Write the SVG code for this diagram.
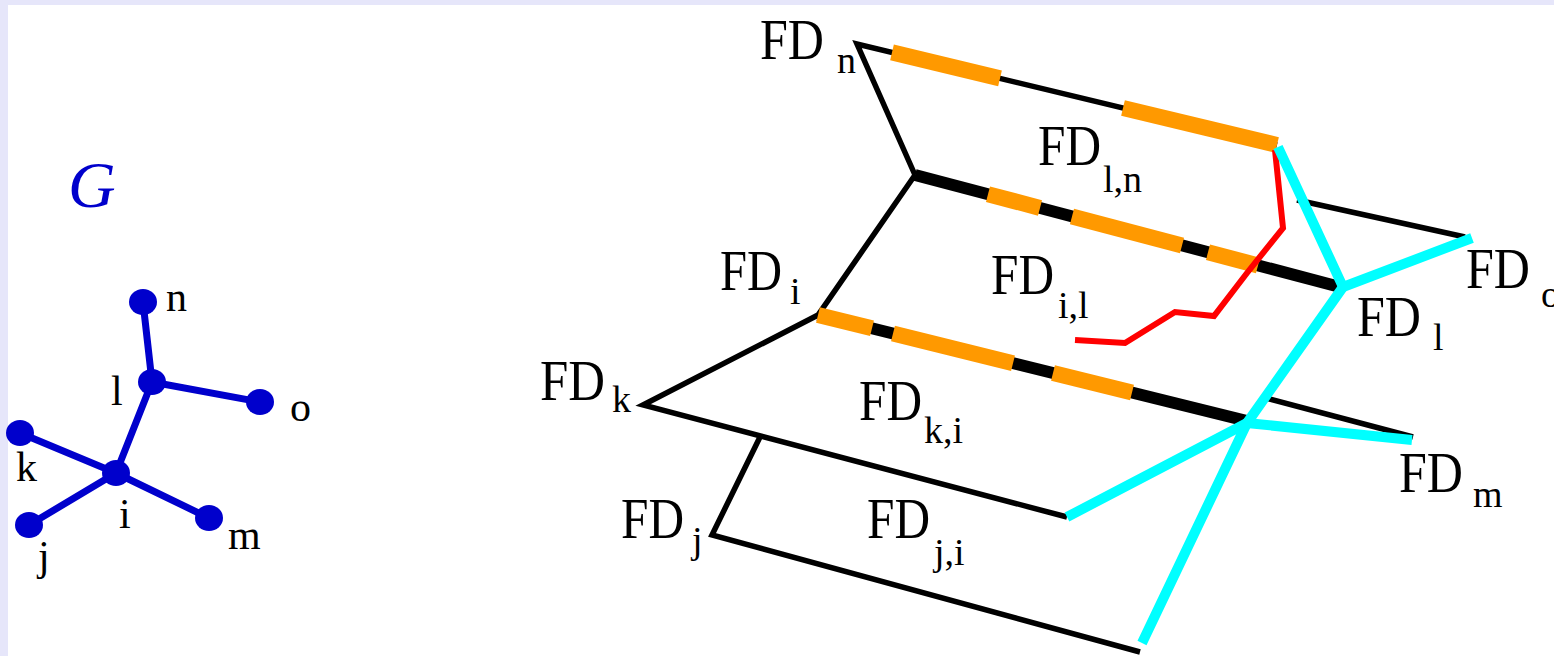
<svg xmlns="http://www.w3.org/2000/svg" width="1554" height="656" viewBox="0 0 1554 656">
<style>
.bg{fill:#e6e6fa}
.g-edge{stroke:#0000cc;stroke-width:7;stroke-linecap:round;fill:none}
.g-node{fill:#0000cc}
.g-lbl{font-family:"Liberation Serif",serif;font-size:42px;fill:#000}
.thin{stroke:#000;stroke-width:5.5;fill:none;stroke-linejoin:miter;stroke-miterlimit:10}
.thick{stroke:#000;stroke-width:12;fill:none}
.orange{stroke:#ff9900;stroke-width:16;fill:none}
.red{stroke:#ff0000;stroke-width:6;fill:none;stroke-linejoin:miter}
.cyan{stroke:#00ffff;stroke-width:10;fill:none;stroke-linejoin:round}
.fd{font-family:"Liberation Serif",serif;font-size:56px;fill:#000}
.sub{font-family:"Liberation Serif",serif;font-size:38px;fill:#000}
</style>
<rect width="1554" height="656" fill="#ffffff"/>
<rect class="bg" x="0" y="0" width="1554" height="5"/>
<rect class="bg" x="0" y="0" width="8" height="656"/>

<text x="68" y="207" font-family="Liberation Serif,serif" font-style="italic" font-size="66" fill="#0000cc">G</text>

<g id="graph-edges">
<line class="g-edge" x1="143" y1="302" x2="152" y2="382"/>
<line class="g-edge" x1="152" y1="382" x2="260" y2="402"/>
<line class="g-edge" x1="152" y1="382" x2="116" y2="473"/>
<line class="g-edge" x1="20" y1="433" x2="116" y2="473"/>
<line class="g-edge" x1="116" y1="473" x2="29" y2="525"/>
<line class="g-edge" x1="116" y1="473" x2="209" y2="518"/>
</g>
<g id="node-n"><ellipse class="g-node" cx="143" cy="302" rx="14" ry="13"/><text class="g-lbl" x="166" y="311">n</text></g>
<g id="node-l"><ellipse class="g-node" cx="152" cy="382" rx="14" ry="13"/><text class="g-lbl" x="111" y="405">l</text></g>
<g id="node-o"><ellipse class="g-node" cx="260" cy="402" rx="14" ry="13"/><text class="g-lbl" x="290" y="421">o</text></g>
<g id="node-k"><ellipse class="g-node" cx="20" cy="433" rx="14" ry="13"/><text class="g-lbl" x="16" y="481">k</text></g>
<g id="node-i"><ellipse class="g-node" cx="116" cy="473" rx="14" ry="13"/><text class="g-lbl" x="119" y="528">i</text></g>
<g id="node-j"><ellipse class="g-node" cx="29" cy="525" rx="14" ry="13"/><text class="g-lbl" x="38" y="570">j</text></g>
<g id="node-m"><ellipse class="g-node" cx="209" cy="518" rx="14" ry="13"/><text class="g-lbl" x="228" y="549">m</text></g>

<g id="connectors">
<polyline class="thin" points="915,175 857,44 1277,145"/>
<polyline class="thin" points="915,175 818,315 643,405 1067,517"/>
<polyline class="thin" points="760,437 712,535 1140,652"/>
<line class="thin" x1="1297" y1="200" x2="1465" y2="237"/>
<line class="thin" x1="1266" y1="398" x2="1413" y2="437"/>
<line class="thick" x1="915" y1="175" x2="1340" y2="287"/>
<line class="thick" x1="818" y1="315" x2="1247" y2="421"/>
<line class="orange" x1="892" y1="52.4" x2="1000" y2="78.4"/>
<line class="orange" x1="1123" y1="108" x2="1277" y2="145"/>
<line class="orange" x1="988" y1="194.2" x2="1040" y2="207.9"/>
<line class="orange" x1="1072" y1="216.4" x2="1182" y2="245.4"/>
<line class="orange" x1="1208" y1="252.2" x2="1258" y2="265.4"/>
<line class="orange" x1="818" y1="315" x2="872" y2="328.3"/>
<line class="orange" x1="893" y1="333.5" x2="1013" y2="363.2"/>
<line class="orange" x1="1053" y1="373.1" x2="1132" y2="392.6"/>
<polyline class="red" points="1275,150 1283,228 1247,273 1214,316 1175,312 1125,343 1075,340"/>
<polyline class="cyan" points="1278,147 1343,287 1472,238"/>
<polyline class="cyan" points="1343,287 1247,423 1142,643"/>
<polyline class="cyan" points="1067,517 1247,423 1412,440"/>
</g>

<g id="FD_n"><text class="fd" x="760" y="59" textLength="64" lengthAdjust="spacingAndGlyphs">FD</text><text class="sub" x="837" y="73">n</text></g>
<g id="FD_ln"><text class="fd" x="1038" y="165" textLength="63" lengthAdjust="spacingAndGlyphs">FD</text><text class="sub" x="1103" y="192">l,n</text></g>
<g id="FD_i"><text class="fd" x="720" y="290" textLength="62" lengthAdjust="spacingAndGlyphs">FD</text><text class="sub" x="790" y="304">i</text></g>
<g id="FD_il"><text class="fd" x="991" y="294" textLength="63" lengthAdjust="spacingAndGlyphs">FD</text><text class="sub" x="1058" y="318">i,l</text></g>
<g id="FD_k"><text class="fd" x="540" y="400" textLength="65" lengthAdjust="spacingAndGlyphs">FD</text><text class="sub" x="612" y="412">k</text></g>
<g id="FD_ki"><text class="fd" x="859" y="420" textLength="63" lengthAdjust="spacingAndGlyphs">FD</text><text class="sub" x="924" y="443">k,i</text></g>
<g id="FD_j"><text class="fd" x="621" y="538" textLength="63" lengthAdjust="spacingAndGlyphs">FD</text><text class="sub" x="692" y="553">j</text></g>
<g id="FD_ji"><text class="fd" x="867" y="538" textLength="63" lengthAdjust="spacingAndGlyphs">FD</text><text class="sub" x="934" y="565">j,i</text></g>
<g id="FD_l"><text class="fd" x="1357" y="336" textLength="64" lengthAdjust="spacingAndGlyphs">FD</text><text class="sub" x="1433" y="350">l</text></g>
<g id="FD_o"><text class="fd" x="1466" y="288" textLength="64" lengthAdjust="spacingAndGlyphs">FD</text><text class="sub" x="1541" y="307">o</text></g>
<g id="FD_m"><text class="fd" x="1399" y="492" textLength="64" lengthAdjust="spacingAndGlyphs">FD</text><text class="sub" x="1473" y="507">m</text></g>
</svg>
